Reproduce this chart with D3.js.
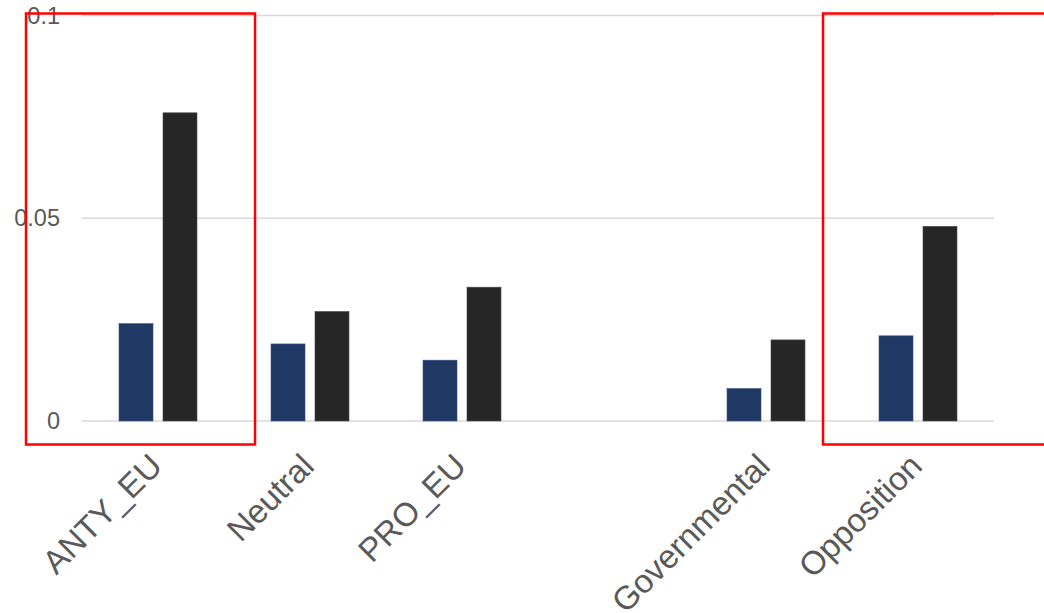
<!DOCTYPE html>
<html>
<head>
<meta charset="utf-8">
<script src="https://cdn.jsdelivr.net/npm/d3@7"></script>
<style>
  html, body { margin: 0; padding: 0; background: #fff; }
  svg { display: block; font-family: "Liberation Sans", Arial, sans-serif; }
</style>
</head>
<body>
<svg id="chart" width="1044" height="613"></svg>
<script>
// Categories (one empty slot separates the two groups)
const categories = ["ANTY_EU", "Neutral", "PRO_EU", "", "Governmental", "Opposition"];
const seriesNames = ["Series A", "Series B"];
const seriesA = [0.024, 0.019, 0.015, null, 0.008, 0.021];
const seriesB = [0.076, 0.027, 0.033, null, 0.020, 0.048];
const yTicks = [0, 0.05, 0.1];
const yTickLabels = ["0", "0.05", "0.1"];
const highlighted = ["ANTY_EU", "Opposition"];

const colors = ["#203864", "#262626"];

const svg = d3.select("#chart");
const plot = { left: 82, right: 994, top: 15.5, bottom: 421 };

const x0 = d3.scaleBand()
  .domain(categories)
  .range([plot.left, plot.right])
  .paddingInner(0.487)
  .paddingOuter(0.2435);

const x1 = d3.scaleBand()
  .domain(seriesNames)
  .range([0, x0.bandwidth()])
  .paddingInner(0.227);

const y = d3.scaleLinear()
  .domain([0, 0.1])
  .range([plot.bottom, plot.top]);

// Horizontal gridlines
svg.append("g")
  .selectAll("line")
  .data(yTicks)
  .join("line")
  .attr("x1", plot.left)
  .attr("x2", plot.right)
  .attr("y1", d => y(d))
  .attr("y2", d => y(d))
  .attr("stroke", "#d9d9d9")
  .attr("stroke-width", 1.5);

// Y tick labels
svg.append("g")
  .selectAll("text")
  .data(yTicks)
  .join("text")
  .attr("x", 60)
  .attr("y", d => y(d))
  .attr("dy", "0.35em")
  .attr("text-anchor", "end")
  .attr("fill", "#595959")
  .attr("font-size", 23.5)
  .text((d, i) => yTickLabels[i]);

// Bars
const rows = categories.map((c, i) => ({ cat: c, vals: [seriesA[i], seriesB[i]] }));
const groups = svg.append("g")
  .selectAll("g")
  .data(rows)
  .join("g")
  .attr("transform", d => `translate(${x0(d.cat)},0)`);

groups.selectAll("rect")
  .data(d => d.vals.map((v, k) => ({ key: seriesNames[k], v, k })).filter(e => e.v != null))
  .join("rect")
  .attr("x", d => x1(d.key))
  .attr("width", x1.bandwidth())
  .attr("y", d => y(d.v))
  .attr("height", d => y(0) - y(d.v))
  .attr("fill", d => colors[d.k])
  .attr("stroke", d => d.k === 0 ? "#3a5080" : "#4a4a4a")
  .attr("stroke-width", 0.6);

// Category labels, rotated
svg.append("g")
  .selectAll("text")
  .data(categories.filter(c => c !== ""))
  .join("text")
  .attr("transform", d => `translate(${x0(d) + x0.bandwidth() / 2 + 6},${plot.bottom + 47}) rotate(-45)`)
  .attr("text-anchor", "end")
  .attr("fill", "#595959")
  .attr("font-size", 33)
  .text(d => d);

// Highlight boxes: left box spans the first group, right box runs off the edge
const boxSpec = { "ANTY_EU": { dx: -93, w: 229 }, "Opposition": { dx: -56, w: 240 } };
svg.append("g")
  .selectAll("rect")
  .data(highlighted)
  .join("rect")
  .attr("x", d => x0(d) + boxSpec[d].dx)
  .attr("y", 13.5)
  .attr("width", d => boxSpec[d].w)
  .attr("height", 431)
  .attr("fill", "none")
  .attr("stroke", "#ff0000")
  .attr("stroke-width", 2.5);
</script>
</body>
</html>
